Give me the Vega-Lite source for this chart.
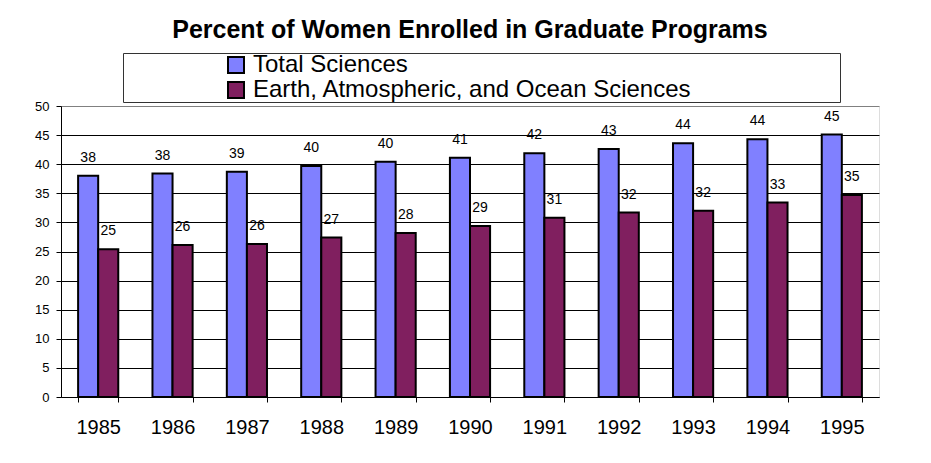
{
  "$schema": "https://vega.github.io/schema/vega-lite/v6.json",
  "width": 818,
  "height": 291,
  "autosize": {"type": "none"},
  "padding": {"left": 61, "top": 106, "right": 52, "bottom": 66},
  "background": "white",
  "title": {
    "text": "Percent of Women Enrolled in Graduate Programs",
    "font": "Liberation Sans",
    "fontSize": 25,
    "fontWeight": "bold",
    "color": "black",
    "anchor": "middle",
    "baseline": "alphabetic",
    "offset": -10
  },
  "data": {
    "values": [
      {"year": "1985", "series": "Total Sciences", "value": 38.0},
      {"year": "1986", "series": "Total Sciences", "value": 38.4},
      {"year": "1987", "series": "Total Sciences", "value": 38.7},
      {"year": "1988", "series": "Total Sciences", "value": 39.7},
      {"year": "1989", "series": "Total Sciences", "value": 40.4},
      {"year": "1990", "series": "Total Sciences", "value": 41.1},
      {"year": "1991", "series": "Total Sciences", "value": 41.9},
      {"year": "1992", "series": "Total Sciences", "value": 42.6},
      {"year": "1993", "series": "Total Sciences", "value": 43.6},
      {"year": "1994", "series": "Total Sciences", "value": 44.3},
      {"year": "1995", "series": "Total Sciences", "value": 45.1},
      {"year": "1985", "series": "Earth, Atmospheric, and Ocean Sciences", "value": 25.4},
      {"year": "1986", "series": "Earth, Atmospheric, and Ocean Sciences", "value": 26.1},
      {"year": "1987", "series": "Earth, Atmospheric, and Ocean Sciences", "value": 26.3},
      {"year": "1988", "series": "Earth, Atmospheric, and Ocean Sciences", "value": 27.4},
      {"year": "1989", "series": "Earth, Atmospheric, and Ocean Sciences", "value": 28.2},
      {"year": "1990", "series": "Earth, Atmospheric, and Ocean Sciences", "value": 29.4},
      {"year": "1991", "series": "Earth, Atmospheric, and Ocean Sciences", "value": 30.8},
      {"year": "1992", "series": "Earth, Atmospheric, and Ocean Sciences", "value": 31.7},
      {"year": "1993", "series": "Earth, Atmospheric, and Ocean Sciences", "value": 32.0},
      {"year": "1994", "series": "Earth, Atmospheric, and Ocean Sciences", "value": 33.4},
      {"year": "1995", "series": "Earth, Atmospheric, and Ocean Sciences", "value": 34.7}
    ]
  },
  "encoding": {
    "x": {
      "field": "year",
      "type": "ordinal",
      "scale": {"paddingInner": 0.46, "paddingOuter": 0.23},
      "axis": {
        "title": null,
        "labelAngle": 0,
        "labelFont": "Liberation Sans",
        "labelFontSize": 20,
        "labelColor": "black",
        "labelPadding": 15,
        "tickBand": "extent",
        "tickColor": "black",
        "tickSize": 5,
        "domainColor": "black",
        "domainWidth": 1,
        "grid": false
      }
    },
    "xOffset": {
      "field": "series",
      "type": "nominal",
      "sort": ["Total Sciences", "Earth, Atmospheric, and Ocean Sciences"],
      "scale": {"paddingInner": 0, "paddingOuter": 0}
    },
    "y": {
      "field": "value",
      "type": "quantitative",
      "scale": {"domain": [0, 50], "nice": false},
      "axis": {
        "title": null,
        "values": [0, 5, 10, 15, 20, 25, 30, 35, 40, 45, 50],
        "labelFont": "Liberation Sans",
        "labelFontSize": 13,
        "labelColor": "black",
        "labelPadding": 7,
        "tickColor": "black",
        "tickSize": 5,
        "domainColor": "black",
        "grid": true,
        "gridColor": {"condition": {"test": "datum.value == 50", "value": "#808080"}, "value": "black"},
        "gridWidth": 1,
        "gridOpacity": 1
      }
    }
  },
  "layer": [
    {
      "mark": {"type": "bar", "stroke": "black", "strokeWidth": 2},
      "encoding": {
        "color": {
          "field": "series",
          "type": "nominal",
          "scale": {
            "domain": ["Total Sciences", "Earth, Atmospheric, and Ocean Sciences"],
            "range": ["#8080FF", "#801F5F"]
          },
          "legend": {
            "orient": "none",
            "legendX": 62,
            "legendY": -53,
            "title": " ",
            "titleOrient": "right",
            "titlePadding": 148,
            "titleFontSize": 10,
            "fillColor": "white",
            "strokeColor": "#333333",
            "padding": 0,
            "rowPadding": 1,
            "symbolType": "square",
            "symbolSize": 256,
            "symbolStrokeColor": "black",
            "symbolStrokeWidth": 2,
            "symbolOffset": 101,
            "labelOffset": 5,
            "labelFont": "Liberation Sans",
            "labelFontSize": 24,
            "labelColor": "black",
            "labelLimit": 0
          }
        }
      }
    },
    {
      "mark": {"type": "text", "baseline": "alphabetic", "dy": -14, "font": "Liberation Sans", "fontSize": 14, "color": "black"},
      "encoding": {
        "text": {"field": "value", "type": "quantitative", "format": ".0f"}
      }
    }
  ]
}
